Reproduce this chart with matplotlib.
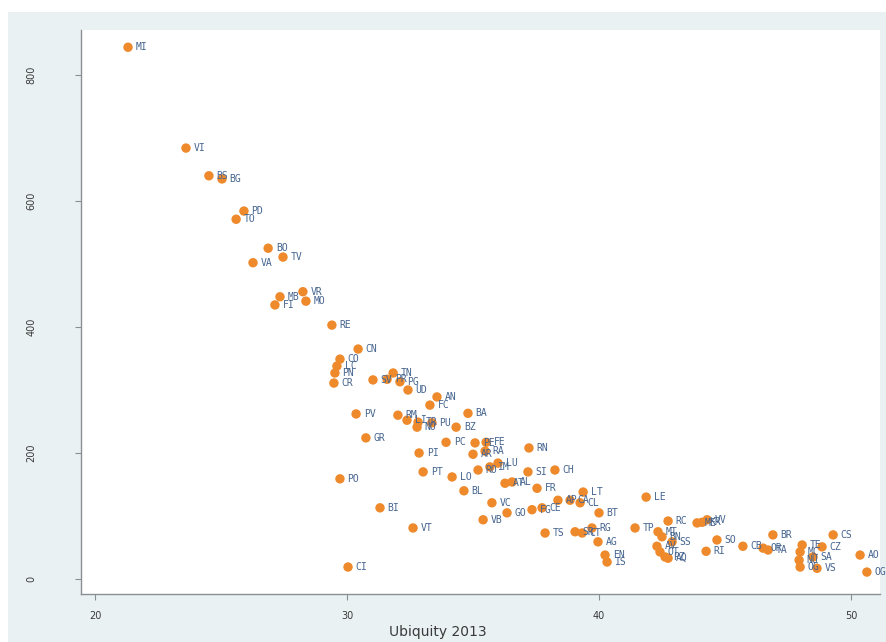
"""
Scatter of province labels against ubiquity (Stata-like look).
"""

import matplotlib.pyplot as plt
from matplotlib.patches import Rectangle

# Province codes, ubiquity 2013 and vertical value
labels = [
    "MI", "VI", "BS", "BG", "PD", "TO", "BO", "TV", "VA", "MB",
    "FI", "VR", "MO", "RE", "CN", "CO", "LC", "PN", "CR", "SV",
    "PR", "TN", "PG", "UD", "AN", "FC", "PV", "RM", "LI", "TR",
    "NO", "PU", "BZ", "BA", "GR", "PI", "PC", "PE", "FE", "AR",
    "RA", "LU", "RN", "PO", "PT", "LO", "RO", "IM", "SI", "CH",
    "BL", "AT", "AL", "FR", "LT", "VC", "VB", "GO", "FG", "CE",
    "AP", "CA", "CL", "BT", "TS", "SR", "CT", "RG", "AG", "EN",
    "IS", "LE", "TP", "RC", "ME", "KR", "VV", "MT", "BN", "AV",
    "OT", "PZ", "AQ", "SS", "SO", "RI", "CB", "OR", "TA", "BR",
    "TE", "MC", "NU", "OG", "SA", "VS", "CZ", "CS", "AO", "OG",
    "BI", "VT", "CI",
]
ubiquity = [
    21.31, 23.61, 24.52, 25.04, 25.91, 25.60, 26.87, 27.46, 26.27, 27.34,
    27.14, 28.25, 28.37, 29.40, 30.44, 29.72, 29.60, 29.52, 29.48, 31.03,
    31.59, 31.83, 32.10, 32.42, 33.57, 33.29, 30.36, 32.02, 32.38, 32.82,
    32.78, 33.37, 34.33, 34.80, 30.75, 32.86, 33.93, 35.08, 35.52, 35.00,
    35.48, 35.99, 37.22, 29.72, 33.02, 34.17, 35.20, 35.67, 37.18, 38.25,
    34.64, 36.27, 36.55, 37.54, 39.37, 35.75, 35.40, 36.35, 37.34, 37.74,
    38.37, 38.85, 39.25, 40.00, 37.86, 39.05, 39.33, 39.72, 39.96, 40.24,
    40.32, 41.87, 41.43, 42.74, 43.89, 44.09, 44.29, 42.34, 42.50, 42.30,
    42.42, 42.62, 42.74, 42.90, 44.68, 44.25, 45.71, 46.51, 46.71, 46.90,
    48.06, 47.98, 47.94, 47.98, 48.49, 48.65, 48.85, 49.29, 50.36, 50.63,
    31.31, 32.62, 30.04,
]
value = [
    844, 684, 640, 635, 584, 571, 525, 511, 502, 448,
    435, 456, 441, 403, 365, 349, 338, 327, 311, 316,
    317, 327, 313, 300, 289, 276, 262, 260, 252, 249,
    241, 248, 241, 263, 224, 200, 217, 216, 217, 198,
    203, 184, 208, 159, 170, 162, 173, 178, 170, 173,
    140, 152, 154, 144, 138, 121, 94, 105, 110, 113,
    125, 125, 121, 105, 73, 75, 73, 81, 59, 38,
    27, 130, 81, 92, 89, 90, 94, 75, 67, 52,
    43, 35, 33, 59, 62, 44, 52, 49, 46, 70,
    54, 43, 30, 19, 35, 17, 51, 70, 38, 11,
    113, 81, 19,
]

x_ticks = [20, 30, 40, 50]
y_ticks = [0, 200, 400, 600, 800]

MARKER_COLOR = "#ee8a2c"
LABEL_COLOR = "#45648f"
FRAME_COLOR = "#eaf1f3"

W, H = 886, 642
fig = plt.figure(figsize=(W / 100, H / 100), dpi=100, facecolor="white")
fig.patches.append(
    Rectangle((8 / W, 0), 1 - 8 / W, 1 - 12 / H, transform=fig.transFigure,
              facecolor=FRAME_COLOR, edgecolor="none", zorder=-10)
)

ax = fig.add_axes([81 / W, 1 - 594 / H, (880 - 81) / W, (594 - 30) / H])
ax.set_facecolor("white")

ax.scatter(ubiquity, value, s=46, color=MARKER_COLOR, edgecolors="none", zorder=3)
for name, xv, yv in zip(labels, ubiquity, value):
    ax.annotate(name, (xv, yv), xytext=(5.5, 0), textcoords="offset points",
                ha="left", va="center", fontsize=7, color=LABEL_COLOR,
                family="DejaVu Sans Mono", zorder=4, annotation_clip=False)

ax.set_xlim(19.444, 51.15)
ax.set_ylim(-23.8, 871.4)
ax.set_xticks(x_ticks)
ax.set_yticks(y_ticks)
ax.set_yticklabels([str(v) for v in y_ticks], rotation=90, va="center")

for side in ("top", "right"):
    ax.spines[side].set_visible(False)
for side in ("left", "bottom"):
    ax.spines[side].set_color("#8a8f93")
    ax.spines[side].set_linewidth(1.0)

ax.tick_params(axis="both", direction="out", length=4, width=0.8,
               color="#8a8f93", labelsize=7, labelcolor="#3a3a3a")
ax.tick_params(axis="y", pad=28)
ax.tick_params(axis="x", pad=8)

ax.set_xlabel("Ubiquity 2013", fontsize=10, color="#3a3a3a")
ax.xaxis.set_label_coords((438 - 81) / (880 - 81), -0.055)

fig.savefig("out.png", dpi=100, facecolor="white")
